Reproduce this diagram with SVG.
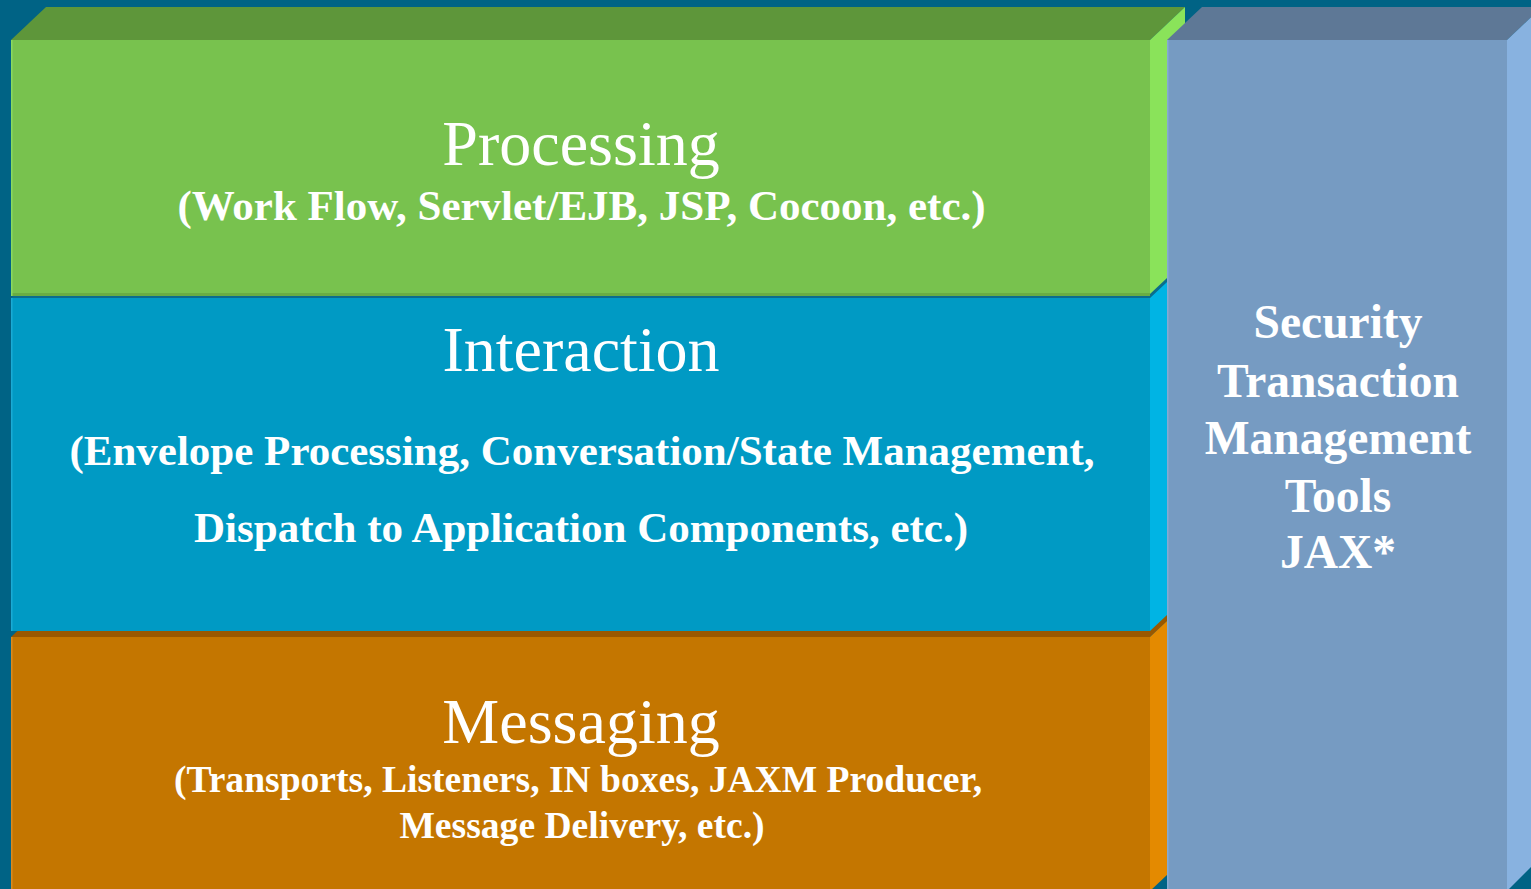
<svg xmlns="http://www.w3.org/2000/svg" width="1531" height="889" viewBox="0 0 1531 889">
<style>
.title{font-family:"Liberation Serif","Times New Roman",serif;font-size:64px;fill:#ffffff;text-anchor:middle}
.sub{font-family:"Liberation Serif","Times New Roman",serif;font-weight:bold;font-size:43px;fill:#ffffff;text-anchor:middle}
.sub2{font-family:"Liberation Serif","Times New Roman",serif;font-weight:bold;font-size:37.6px;fill:#ffffff;text-anchor:middle}
.side{font-family:"Liberation Serif","Times New Roman",serif;font-weight:bold;font-size:47.5px;fill:#ffffff;text-anchor:middle}
</style>
<rect x="0" y="0" width="1531" height="889" fill="#006385"/>
<g id="messaging">
<polygon points="11,637 46,604 1185,604 1150,637" fill="#9a5800"/>
<polygon points="1150,637 1185,604 1185,858 1150,891" fill="#e48a00"/>
<rect x="11" y="637" width="1139" height="260" fill="#c47600"/>
<rect x="11" y="637" width="1.5" height="260" fill="#d98a20"/>
<text class="title" x="581" y="743">Messaging</text>
<text class="sub2" x="578" y="792">(Transports, Listeners, IN boxes, JAXM Producer,</text>
<text class="sub2" x="582" y="838">Message Delivery, etc.)</text>
</g>
<g id="interaction">
<polygon points="11,298 46,265 1185,265 1150,298" fill="#0b6d8c"/>
<polygon points="1150,298 1185,265 1185,598 1150,631" fill="#00b4e4"/>
<rect x="11" y="298" width="1139" height="333" fill="#009ac4"/>
<rect x="11" y="298" width="1.5" height="333" fill="#1aaad4"/>
<text class="title" x="581" y="371">Interaction</text>
<text class="sub" x="582" y="465">(Envelope Processing, Conversation/State Management,</text>
<text class="sub" x="581" y="542">Dispatch to Application Components, etc.)</text>
</g>
<g id="processing">
<polygon points="11,40 46,7 1185,7 1150,40" fill="#5e963a"/>
<polygon points="1150,40 1185,7 1185,261 1150,294" fill="#8ae35a"/>
<rect x="11" y="40" width="1139" height="256" fill="#78c24e"/>
<rect x="11" y="293" width="1139" height="3" fill="#69ad43"/>
<rect x="11" y="40" width="1.5" height="256" fill="#8ad860"/>
<text class="title" x="581" y="165">Processing</text>
<text class="sub" x="581.5" y="220">(Work Flow, Servlet/EJB, JSP, Cocoon, etc.)</text>
</g>
<g id="services">
<polygon points="1167,40 1202,7 1542,7 1507,40" fill="#5e7896"/>
<polygon points="1507,40 1542,7 1542,856 1507,891" fill="#88b2e0"/>
<rect x="1167" y="40" width="340" height="860" fill="#769bc2"/>
<rect x="1167" y="40" width="1.5" height="860" fill="#86abd2"/>
<text class="side" x="1338" y="338">Security</text>
<text class="side" x="1338" y="397">Transaction</text>
<text class="side" x="1338" y="454">Management</text>
<text class="side" x="1338" y="512">Tools</text>
<text class="side" x="1338" y="568">JAX*</text>
</g>
<g id="connectors"></g>
</svg>
